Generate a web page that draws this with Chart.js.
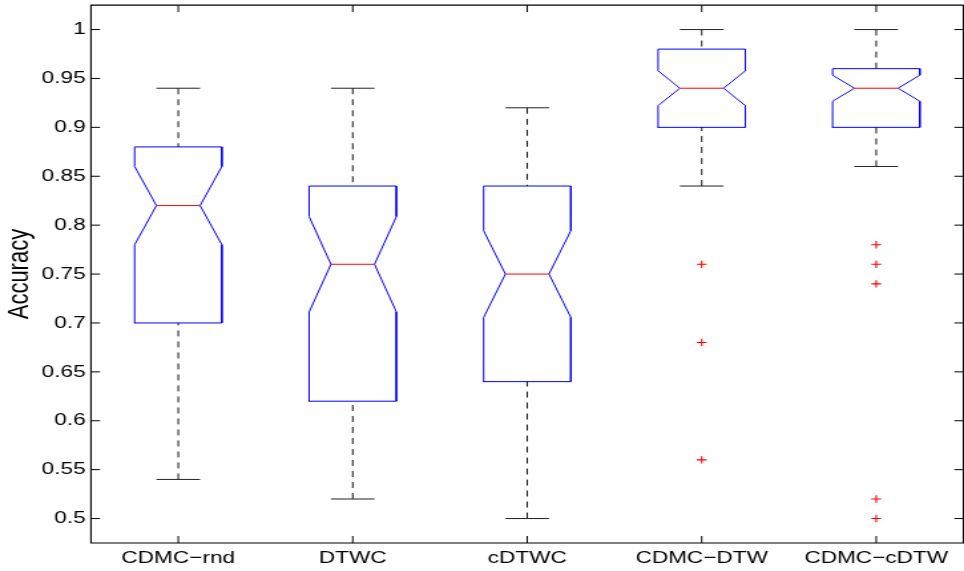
<!DOCTYPE html>
<html>
<head>
<meta charset="utf-8">
<script src="https://cdn.jsdelivr.net/npm/chart.js@4.4.1/dist/chart.umd.min.js"></script>
<style>
html, body { margin: 0; padding: 0; background: #fff; overflow: hidden; }
/* the figure is rendered narrow and widened, like the exported plot */
#wrap {
    position: absolute; left: 0; top: 0;
    width: 725px; height: 571px;
    transform-origin: 0 0;
    transform: scaleX(1.3297);
}
</style>
</head>
<body>
<div id="wrap"><canvas id="chart"></canvas></div>
<script>
// ============================================
// Accuracy per method, notched box plots
// ============================================

const categories   = ['CDMC−rnd', 'DTWC', 'cDTWC', 'CDMC−DTW', 'CDMC−cDTW'];
const upperWhisker = [0.94, 0.94, 0.92, 1.00, 1.00];
const q3           = [0.88, 0.84, 0.84, 0.98, 0.96];
const median       = [0.82, 0.76, 0.75, 0.94, 0.94];
const q1           = [0.70, 0.62, 0.64, 0.90, 0.90];
const lowerWhisker = [0.54, 0.52, 0.50, 0.84, 0.86];
const outliers     = [[], [], [], [0.76, 0.68, 0.56], [0.78, 0.76, 0.74, 0.52, 0.50]];
const sampleSize   = 50;

const yTicks = [0.5, 0.55, 0.6, 0.65, 0.7, 0.75, 0.8, 0.85, 0.9, 0.95, 1];
const yRange = [0.475, 1.025];
const xRange = [0.5, 5.5];

// box geometry, in category units
const BOX_HALF = 0.25;
const NOTCH_HALF = 0.125;
const CAP_HALF = 0.125;

const FONT = '"Liberation Sans", Arial, Helvetica, sans-serif';
const BLUE = '#0000ff';
const RED = '#ff0000';

function notchOf(i) {
    return 1.57 * (q3[i] - q1[i]) / Math.sqrt(sampleSize);
}

function lineSet(data, color, extra) {
    return Object.assign({
        type: 'line',
        data,
        borderColor: color,
        borderWidth: 1,
        pointRadius: 0,
        fill: false,
        tension: 0,
        borderJoinStyle: 'miter'
    }, extra || {});
}

const datasets = [];

categories.forEach((_, i) => {
    const x = i + 1;
    const n = notchOf(i);
    const lo = median[i] - n;
    const hi = median[i] + n;

    // outliers
    if (outliers[i].length) {
        datasets.push({
            type: 'line',
            data: outliers[i].map(v => ({ x, y: v })),
            showLine: false,
            pointStyle: 'cross',
            pointRadius: 3.7,
            pointBorderColor: RED,
            pointBorderWidth: 1.1,
            borderColor: RED
        });
    }

    // median
    datasets.push(lineSet([
        { x: x - NOTCH_HALF, y: median[i] },
        { x: x + NOTCH_HALF, y: median[i] }
    ], RED));

    // notched box
    datasets.push(lineSet([
        { x: x - BOX_HALF, y: q1[i] },
        { x: x - BOX_HALF, y: lo },
        { x: x - NOTCH_HALF, y: median[i] },
        { x: x - BOX_HALF, y: hi },
        { x: x - BOX_HALF, y: q3[i] },
        { x: x + BOX_HALF, y: q3[i] },
        { x: x + BOX_HALF, y: hi },
        { x: x + NOTCH_HALF, y: median[i] },
        { x: x + BOX_HALF, y: lo },
        { x: x + BOX_HALF, y: q1[i] },
        { x: x - BOX_HALF, y: q1[i] }
    ], BLUE, { borderCapStyle: 'square' }));

    // whisker caps
    datasets.push(lineSet([
        { x: x - CAP_HALF, y: upperWhisker[i] },
        { x: x + CAP_HALF, y: upperWhisker[i] }
    ], '#222'));
    datasets.push(lineSet([
        { x: x - CAP_HALF, y: lowerWhisker[i] },
        { x: x + CAP_HALF, y: lowerWhisker[i] }
    ], '#222'));

    // dashed whiskers, from the cap to the box
    datasets.push(lineSet([
        { x, y: upperWhisker[i] },
        { x, y: q3[i] }
    ], '#111', { borderDash: [6, 5] }));
    datasets.push(lineSet([
        { x, y: lowerWhisker[i] },
        { x, y: q1[i] }
    ], '#111', { borderDash: [6, 5] }));
});

// axes box with inward ticks on all sides
const axesFrame = {
    id: 'axesFrame',
    afterDatasetsDraw(chart) {
        const { ctx, chartArea: a, scales: { x, y } } = chart;
        const left = x.getPixelForValue(xRange[0]);
        const right = x.getPixelForValue(xRange[1]);

        ctx.save();
        ctx.strokeStyle = '#000';
        ctx.lineWidth = 1.2;
        ctx.beginPath();
        ctx.moveTo(right, a.top);
        ctx.lineTo(left, a.top);
        ctx.lineTo(left, a.bottom);
        ctx.lineTo(right, a.bottom);
        ctx.lineTo(right, a.top);
        ctx.stroke();

        ctx.lineWidth = 1;
        ctx.beginPath();
        yTicks.forEach(v => {
            const py = y.getPixelForValue(v);
            ctx.moveTo(left, py);
            ctx.lineTo(left + 6.8, py);
            ctx.moveTo(right, py);
            ctx.lineTo(right - 6.8, py);
        });
        categories.forEach((_, i) => {
            const px = x.getPixelForValue(i + 1);
            ctx.moveTo(px, a.bottom);
            ctx.lineTo(px, a.bottom - 7);
            ctx.moveTo(px, a.top);
            ctx.lineTo(px, a.top + 7);
        });
        ctx.stroke();
        ctx.restore();
    }
};

new Chart(document.getElementById('chart'), {
    data: { datasets },
    plugins: [axesFrame],
    options: {
        responsive: true,
        maintainAspectRatio: false,
        animation: false,
        events: [],
        layout: { padding: { top: 3, left: 0, right: 0, bottom: 0 } },
        plugins: {
            legend: { display: false },
            tooltip: { enabled: false }
        },
        scales: {
            x: {
                type: 'linear',
                min: xRange[0],
                max: 5.4645,
                grid: { display: false, drawTicks: false },
                border: { display: false },
                afterBuildTicks: scale => {
                    scale.ticks = categories.map((_, i) => ({ value: i + 1 }));
                },
                afterFit: scale => {
                    scale.height = 28;
                    scale.paddingLeft = 0;
                    scale.paddingRight = 0;
                },
                ticks: {
                    autoSkip: false,
                    maxRotation: 0,
                    padding: 5,
                    color: '#000',
                    font: { family: FONT, size: 17 },
                    callback: (value, index) => categories[index]
                }
            },
            y: {
                type: 'linear',
                min: yRange[0],
                max: yRange[1],
                grid: { display: false, drawTicks: false },
                border: { display: false },
                afterBuildTicks: scale => {
                    scale.ticks = yTicks.map(v => ({ value: v }));
                },
                afterFit: scale => {
                    scale.width = 68.44;
                    scale.paddingTop = 0;
                    scale.paddingBottom = 0;
                },
                ticks: {
                    padding: 4,
                    color: '#000',
                    font: { family: FONT, size: 17 },
                    callback: value => String(+value.toFixed(2))
                },
                title: {
                    display: true,
                    text: 'Accuracy',
                    color: '#000',
                    padding: { top: 2, bottom: 0 },
                    font: { family: FONT, size: 22 }
                }
            }
        }
    }
});
</script>
</body>
</html>
